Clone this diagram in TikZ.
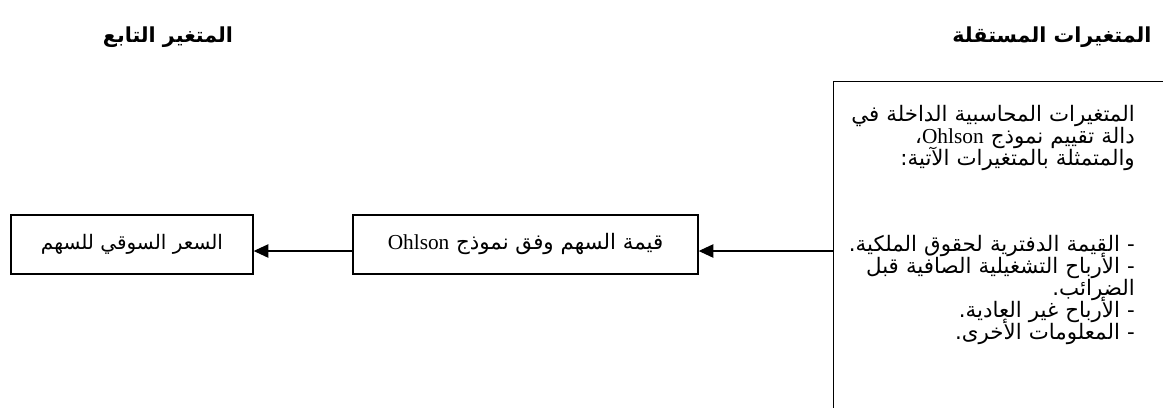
\documentclass[tikz,border=0pt]{standalone}
\usepackage{fontspec}
\setmainfont{Liberation Serif}
\newfontfamily\arabicfont[Script=Arabic]{DejaVu Sans}
\TeXXeTstate=1
\usetikzlibrary{arrows.meta}

\begin{document}
\begin{tikzpicture}[x=0.75pt,y=-0.75pt,
    box/.style={draw,line width=1pt,minimum height=44.25pt,inner sep=0pt},
    flow/.style={line width=1pt,-{Triangle[length=11pt,width=10pt]}},
    head/.style={font=\arabicfont\bfseries\fontsize{15.5}{18}\selectfont},
    txt/.style={font=\arabicfont\fontsize{16}{16.5}\selectfont}]
  \useasboundingbox (0,0) rectangle (1163,407);
  \clip (0,0) rectangle (1163,407);
  \node[head] (indep) at (1052,37) {\beginR المتغيرات المستقلة\endR};
  \node[head] (dep) at (168,37) {\beginR المتغير التابع\endR};
  \node[box,anchor=north west,minimum width=300pt,minimum height=300pt] (vars) at (833,81) {};
  \node[txt,anchor=north east,text width=225pt,align=right,inner sep=0pt] (varlist) at (1135,105) {%
    \baselineskip=16.5pt\lineskiplimit=-100pt\relax
    \beginR المتغيرات المحاسبية الداخلة في\endR\\
    \beginR دالة تقييم نموذج \beginL{\normalfont Ohlson}\endL،\endR\\
    \beginR والمتمثلة بالمتغيرات الآتية:\endR\\[48pt]
    \beginR - القيمة الدفترية لحقوق الملكية.\endR\\
    \beginR - الأرباح التشغيلية الصافية قبل\endR\\
    \beginR الضرائب.\endR\\
    \beginR - الأرباح غير العادية.\endR\\
    \beginR - المعلومات الأخرى.\endR\par};
  \node[box,txt,minimum width=258.75pt] (model) at (525.5,244.5) {\beginR قيمة السهم وفق نموذج \beginL{\normalfont Ohlson}\endL\endR};
  \node[box,minimum width=181.5pt,font=\arabicfont\fontsize{15}{16.5}\selectfont] (price) at (132,244.5) {\beginR السعر السوقي للسهم\endR};
  \coordinate (lvl) at (0,251);
  \draw[flow] (vars.west |- lvl) -- (model.east |- lvl);
  \draw[flow] (model.west |- lvl) -- (price.east |- lvl);
\end{tikzpicture}
\end{document}
